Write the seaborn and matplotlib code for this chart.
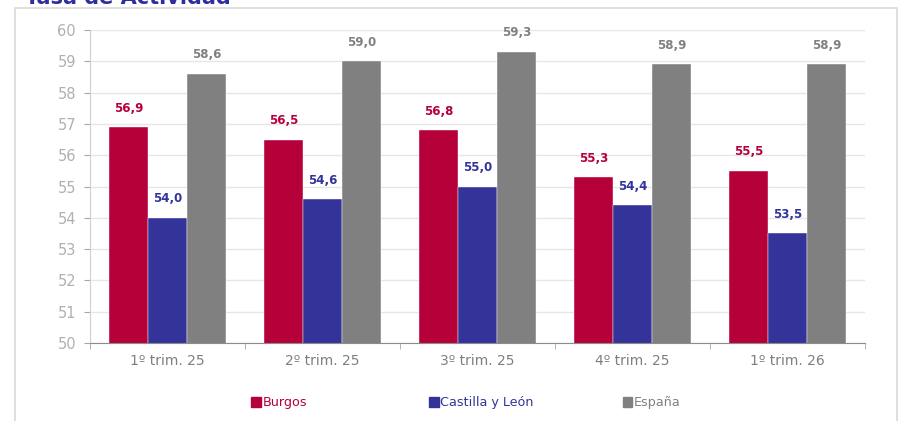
import matplotlib
matplotlib.use("Agg")
import matplotlib.pyplot as plt
import matplotlib.patches as mpatches
import seaborn as sns
import pandas as pd

# data
periodos = ["1º trim. 25", "2º trim. 25", "3º trim. 25", "4º trim. 25", "1º trim. 26"]
burgos = [56.9, 56.5, 56.8, 55.3, 55.5]
castilla_leon = [54.0, 54.6, 55.0, 54.4, 53.5]
espana = [58.6, 59.0, 59.3, 58.9, 58.9]

series = ["Burgos", "Castilla y León", "España"]
colores = {"Burgos": "#B5003A", "Castilla y León": "#333399", "España": "#808080"}

df = pd.DataFrame({
    "periodo": periodos * 3,
    "serie": [s for s in series for _ in periodos],
    "tasa": burgos + castilla_leon + espana,
})

sns.set_style("white")
plt.rcParams["font.family"] = ["DejaVu Sans"]

fig = plt.figure(figsize=(9.01, 4.21), dpi=100)
ax = fig.add_axes([0.0999, 0.1853, 0.8602, 0.7434])

sns.barplot(data=df, x="periodo", y="tasa", hue="serie", hue_order=series,
            palette=colores, width=0.75, saturation=1, legend=False,
            edgecolor="white", linewidth=0.3, ax=ax)

ax.set_ylim(50, 60)
ax.set_xlim(-0.5, len(periodos) - 0.5)
ax.set_yticks(range(50, 61))
ax.yaxis.grid(True, color="#E6E6E6", linewidth=1)
ax.set_axisbelow(True)
ax.set_xlabel("")
ax.set_ylabel("")

# ticks at category boundaries, labels in the middle
ax.set_xticks([i + 0.5 for i in range(-1, len(periodos))], minor=True)
ax.tick_params(axis="x", which="major", length=0, pad=8, labelsize=10, labelcolor="#7F7F7F")
ax.tick_params(axis="x", which="minor", length=4, color="#A6A6A6", direction="out", bottom=True)
ax.tick_params(axis="y", length=4, color="#A6A6A6", direction="out", left=True,
               labelsize=10.5, labelcolor="#B0B0B0", pad=6)

for side in ["top", "right"]:
    ax.spines[side].set_visible(False)
ax.spines["left"].set_color("#D0D0D0")
ax.spines["bottom"].set_color("#8C8C8C")

# value labels
for cont, s in zip(ax.containers, series):
    ax.bar_label(cont, labels=[f"{v:.1f}".replace(".", ",") for v in cont.datavalues],
                 padding=9, fontsize=8.5, fontweight="bold", color=colores[s])

# legend entries placed like the original
legend_x = [0.272, 0.469, 0.684]
for s, x in zip(series, legend_x):
    h = mpatches.Patch(color=colores[s], label=s)
    lg = fig.legend(handles=[h], loc="center left", bbox_to_anchor=(x, 0.043),
                    frameon=False, fontsize=9.2, handlelength=0.75, handleheight=0.75,
                    handletextpad=0.15, borderpad=0)
    for t in lg.get_texts():
        t.set_color(colores[s])

# outer frame and clipped title
frame = mpatches.Rectangle((15 / 901, -0.1), 882 / 901, 1.1 - 8 / 421,
                           transform=fig.transFigure, fill=False,
                           edgecolor="#D9D9D9", linewidth=1.2)
fig.patches.append(frame)
fig.text(25 / 901, 1 - 4 / 421, "Tasa de Actividad", color="#2E2E9E",
         fontsize=15, fontweight="bold", va="baseline", ha="left")

fig.savefig("out.png", dpi=100)
